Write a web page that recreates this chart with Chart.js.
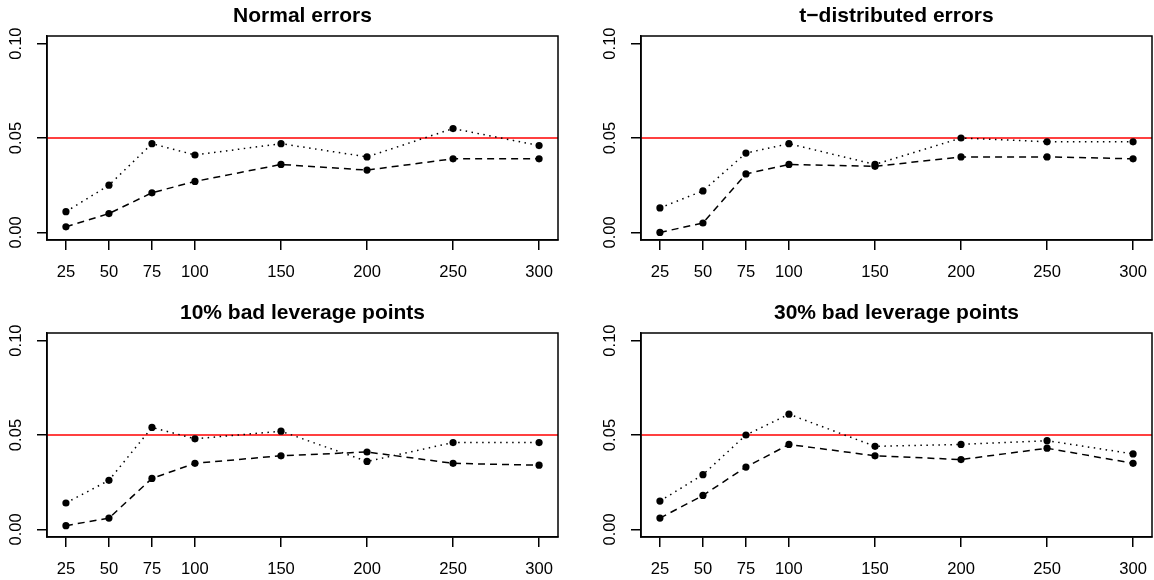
<!DOCTYPE html>
<html>
<head>
<meta charset="utf-8">
<script src="https://cdn.jsdelivr.net/npm/chart.js@4.4.0/dist/chart.umd.min.js"></script>
<style>
  html, body { margin: 0; padding: 0; background: #fff; overflow: hidden; }
  body { width: 1154px; height: 580px; position: relative; }
  .panel { position: absolute; width: 562px; height: 290px; }
</style>
</head>
<body>
<div class="panel" style="left:0;top:0"><canvas id="p1"></canvas></div>
<div class="panel" style="left:594px;top:0"><canvas id="p2"></canvas></div>
<div class="panel" style="left:0;top:297px"><canvas id="p3"></canvas></div>
<div class="panel" style="left:594px;top:297px"><canvas id="p4"></canvas></div>
<script>
// sample sizes on the x axis
var sampleSizes = [25, 50, 75, 100, 150, 200, 250, 300];
var xTicks = [25, 50, 75, 100, 150, 200, 250, 300];
var yTicks = [0, 0.05, 0.1];
var yTickLabels = ["0.00", "0.05", "0.10"];
var nominalLevel = 0.05;

var titles = [
  "Normal errors",
  "t\u2212distributed errors",
  "10% bad leverage points",
  "30% bad leverage points"
];

// dotted series (upper) and dashed series (lower), per panel
var normalDotted = [0.011, 0.025, 0.047, 0.041, 0.047, 0.040, 0.055, 0.046];
var normalDashed = [0.003, 0.010, 0.021, 0.027, 0.036, 0.033, 0.039, 0.039];
var tDotted = [0.013, 0.022, 0.042, 0.047, 0.036, 0.050, 0.048, 0.048];
var tDashed = [0.000, 0.005, 0.031, 0.036, 0.035, 0.040, 0.040, 0.039];
var lev10Dotted = [0.014, 0.026, 0.054, 0.048, 0.052, 0.036, 0.046, 0.046];
var lev10Dashed = [0.002, 0.006, 0.027, 0.035, 0.039, 0.041, 0.035, 0.034];
var lev30Dotted = [0.015, 0.029, 0.050, 0.061, 0.044, 0.045, 0.047, 0.040];
var lev30Dashed = [0.006, 0.018, 0.033, 0.045, 0.039, 0.037, 0.043, 0.035];

var dottedSets = [normalDotted, tDotted, lev10Dotted, lev30Dotted];
var dashedSets = [normalDashed, tDashed, lev10Dashed, lev30Dashed];

var FONT = "'Liberation Sans', Arial, Helvetica, sans-serif";
var LW = 1.5;

// R style 4% axis expansion
function expand(lo, hi) {
  var d = (hi - lo) * 0.04;
  return [lo - d, hi + d];
}
var xr = expand(25, 300);
var yr = expand(0, 0.1);

function points(values) {
  return sampleSizes.map(function (n, i) {
    return { x: n, y: values[i] };
  });
}

// red reference line and the box round the plot region
var framePlugin = {
  id: "frame",
  beforeDatasetsDraw: function (chart) {
    var ctx = chart.ctx, a = chart.chartArea;
    var y = chart.scales.y.getPixelForValue(nominalLevel);
    ctx.save();
    ctx.strokeStyle = "#ff0000";
    ctx.lineWidth = 1.7;
    ctx.beginPath();
    ctx.moveTo(a.left, y);
    ctx.lineTo(a.right, y);
    ctx.stroke();
    ctx.restore();
  },
  afterDatasetsDraw: function (chart) {
    var ctx = chart.ctx, a = chart.chartArea;
    ctx.save();
    ctx.strokeStyle = "#000";
    ctx.lineWidth = LW;
    ctx.strokeRect(a.left, a.top, a.right - a.left, a.bottom - a.top);
    ctx.restore();
  }
};

// no extra room for overhanging tick labels
function noPadding(axis) {
  axis.paddingLeft = 0;
  axis.paddingRight = 0;
  axis.paddingTop = 0;
  axis.paddingBottom = 0;
}

function makePanel(id, k) {
  var ctx = document.getElementById(id).getContext("2d");
  return new Chart(ctx, {
    type: "line",
    data: {
      datasets: [
        {
          data: points(dottedSets[k]),
          borderColor: "#000",
          borderWidth: LW,
          borderDash: [1.5, 4.5],
          pointRadius: 3.6,
          pointBackgroundColor: "#000",
          pointBorderWidth: 0,
          tension: 0
        },
        {
          data: points(dashedSets[k]),
          borderColor: "#000",
          borderWidth: LW,
          borderDash: [7, 5],
          pointRadius: 3.6,
          pointBackgroundColor: "#000",
          pointBorderWidth: 0,
          tension: 0
        }
      ]
    },
    options: {
      responsive: true,
      maintainAspectRatio: false,
      animation: false,
      layout: { padding: { right: 2 } },
      plugins: {
        legend: { display: false },
        tooltip: { enabled: false },
        title: {
          display: true,
          text: titles[k],
          fullSize: false,
          color: "#000",
          font: { family: FONT, size: 21, weight: "bold", lineHeight: 1.2 },
          padding: { top: 4, bottom: 6.8 }
        }
      },
      scales: {
        x: {
          type: "linear",
          min: xr[0],
          max: xr[1],
          afterBuildTicks: function (axis) {
            axis.ticks = xTicks.map(function (v) { return { value: v }; });
          },
          afterFit: function (axis) {
            axis.height = 50;
            noPadding(axis);
          },
          grid: {
            drawOnChartArea: false,
            drawTicks: true,
            tickLength: 10,
            color: "#000",
            lineWidth: LW
          },
          border: { display: true, color: "#000", width: LW },
          ticks: {
            color: "#000",
            font: { family: FONT, size: 16.6 },
            padding: 12,
            maxRotation: 0,
            autoSkip: false,
            callback: function (v) { return String(v); }
          }
        },
        y: {
          type: "linear",
          min: yr[0],
          max: yr[1],
          afterBuildTicks: function (axis) {
            axis.ticks = yTicks.map(function (v) { return { value: v }; });
          },
          afterFit: function (axis) {
            axis.width = 47;
            noPadding(axis);
          },
          grid: {
            drawOnChartArea: false,
            drawTicks: true,
            tickLength: 10,
            color: "#000",
            lineWidth: LW
          },
          border: { display: true, color: "#000", width: LW },
          ticks: {
            color: "#000",
            font: { family: FONT, size: 16.6 },
            padding: 4,
            minRotation: 90,
            maxRotation: 90,
            crossAlign: "center",
            autoSkip: false,
            callback: function (v) { return yTickLabels[yTicks.indexOf(v)]; }
          }
        }
      }
    },
    plugins: [framePlugin]
  });
}

makePanel("p1", 0);
makePanel("p2", 1);
makePanel("p3", 2);
makePanel("p4", 3);
</script>
</body>
</html>
